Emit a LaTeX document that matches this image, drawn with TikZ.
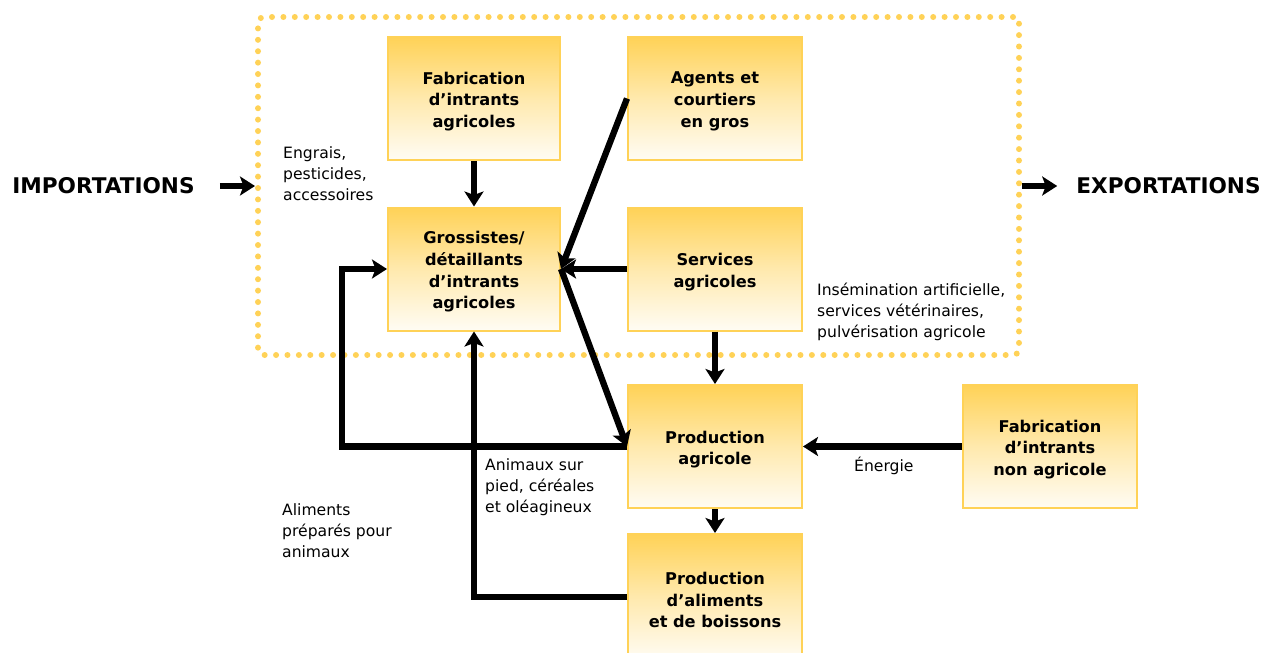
\documentclass[tikz,border=0pt]{standalone}
\usepackage{fontspec}
\setmainfont{DejaVu Sans}
\usetikzlibrary{arrows.meta}
\definecolor{gold}{HTML}{FFD257}
\definecolor{pale}{HTML}{FFFCF4}
\tikzset{
  box/.style={draw=gold, line width=2pt, top color=gold, bottom color=pale, middle color=gold!45!pale,
    minimum width=174pt, minimum height=123pt, inner sep=0pt},
  boxtext/.style={inner sep=0pt, align=center, yshift=-3pt,
    font=\bfseries\fontsize{16.2}{21.7}\selectfont},
  lbl/.style={inner sep=0pt, align=left, anchor=west, font=\fontsize{15.6}{21}\selectfont},
  big/.style={inner sep=0pt, font=\bfseries\fontsize{21.6}{24}\selectfont},
  arr/.style={line width=6.3pt, -{Stealth[length=15pt,width=19pt,inset=3.5pt]}},
  frame/.style={draw=gold, line width=6pt, line cap=round, dash pattern=on 0pt off 11.4pt,
    rounded corners=6pt, minimum width=761pt, minimum height=338pt, inner sep=0pt}
}
\begin{document}
\begin{tikzpicture}[x=1pt,y=-1pt]
\useasboundingbox (0,0) rectangle (1262,653);
\begin{scope}
\clip (0,0) rectangle (1262,653);
\node[frame] (frame) at (638.5,186) {};
\node[box, minimum width=172pt, label={[boxtext]center:{Fabrication\\d’intrants\\agricoles}}] (fab) at (474,98.5) {};
\node[box, label={[boxtext]center:{Agents et\\courtiers\\en gros}}] (agents) at (715,98.5) {};
\node[box, minimum width=172pt, label={[boxtext]center:{Grossistes/\\détaillants\\d’intrants\\agricoles}}] (gross) at (474,269) {};
\node[box, label={[boxtext]center:{Services\\agricoles}}] (serv) at (715,269) {};
\node[box, label={[boxtext]center:{Production\\agricole}}] (prod) at (715,446.5) {};
\node[box, label={[boxtext]center:{Fabrication\\d’intrants\\non agricole}}] (nonag) at (1050,446.5) {};
\node[box, minimum height=126pt, label={[boxtext]center:{Production\\d’aliments\\et de boissons}}] (alim) at (715,597) {};

\node[big] (imp) at (103.5,186) {IMPORTATIONS};
\node[big] (exp) at (1168.5,186) {EXPORTATIONS};

\node[lbl] (engrais) at (283,174) {Engrais,\\pesticides,\\accessoires};
\node[lbl] (insem) at (817,312) {Insémination artificielle,\\services vétérinaires,\\pulvérisation agricole};
\node[lbl] (animaux) at (485,487) {Animaux sur\\pied, céréales\\et oléagineux};
\node[lbl] (aliments) at (282,531) {Aliments\\préparés pour\\animaux};
\node[lbl] (energie) at (854,466) {Énergie};

\coordinate (loopL) at (342,446.5);

\draw[arr] (fab.south) -- (gross.north);
\draw[arr] (agents.west) -- (gross.east);
\draw[arr] (serv.west) -- (gross.east);
\draw[arr] (gross.east) -- (prod.west);
\draw[arr] (serv.south) -- (prod.north);
\draw[arr] (prod.south) -- (alim.north);
\draw[arr] (nonag.west) -- (prod.east);
\draw[arr] (prod.west) -- (loopL) |- (gross.west);
\draw[arr] (alim.west) -| (gross.south);
\draw[arr] ([xshift=25pt]imp.east) -- (frame.west);
\draw[arr] (frame.east) -- ([xshift=-19pt]exp.west);
\end{scope}
\end{tikzpicture}
\end{document}
